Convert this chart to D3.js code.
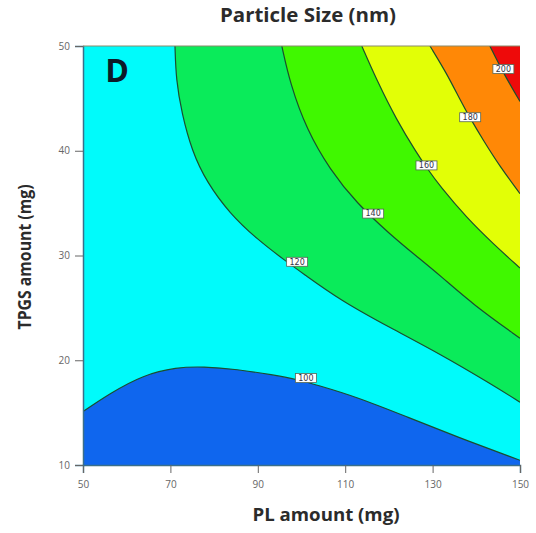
<!DOCTYPE html>
<html>
<head>
<meta charset="utf-8">
<script src="https://cdn.jsdelivr.net/npm/d3@7"></script>
<style>
  body { margin: 0; background: #fff; }
  svg { display: block; }
</style>
</head>
<body>
<div id="chart"></div>
<script>
// contour lines, [PL amount, TPGS amount]
const contour100 = [[50, 15.1], [56.2, 16.85], [63.8, 18.6], [71.4, 19.33], [77.5, 19.4], [85.2, 19.14],
    [93.5, 18.6], [98.9, 18.18], [103.5, 17.64], [112.6, 16.5], [124.1, 14.6], [135.5, 12.7], [150, 10.45]];
const contour120 = [[71.05, 50], [71.3, 46.75], [72.6, 43.6], [74.9, 40.0], [78.3, 37.0], [83.6, 34.0],
    [89.7, 31.6], [96.6, 29.4], [100.3, 28.3], [108.8, 25.75], [120.3, 23.1], [131.7, 20.6], [143.1, 17.8], [150, 16.0]];
const contour140 = [[95.5, 50], [97.4, 46.4], [101.2, 42.0], [106.5, 38.2], [112.6, 35.0], [120.3, 32.0],
    [126.4, 29.9], [131.7, 28.1], [139.3, 25.3], [150, 22.1]];
const contour160 = [[113.8, 50], [117.2, 46.75], [121.8, 42.9], [126.4, 39.76], [128.6, 38.4], [131.7, 36.6],
    [137.8, 33.6], [143.9, 31.1], [150, 28.8]];
const contour180 = [[129.4, 50], [133.2, 47.4], [136.3, 44.85], [138.6, 43.1], [141.6, 41.0], [145.4, 38.5], [150, 35.9]];
const contour200 = [[143.1, 50], [146.2, 47.4], [150, 44.7]];

const levels = [100, 120, 140, 160, 180, 200];
const labelPL = [101.0, 99.0, 116.4, 128.6, 138.6, 146.2];
const labelTPGS = [18.3, 29.4, 34.0, 38.6, 43.2, 47.8];

const xTicks = [50, 70, 90, 110, 130, 150];
const yTicks = [10, 20, 30, 40, 50];

const width = 536, height = 533;
const margin = { top: 46, right: 16, bottom: 68, left: 83 };

const svg = d3.select("#chart").append("svg")
    .attr("width", width)
    .attr("height", height);

const x = d3.scaleLinear().domain([50, 150]).range([margin.left, width - margin.right]);
const y = d3.scaleLinear().domain([10, 50]).range([height - margin.bottom, margin.top]);

const line = d3.line()
    .x(d => x(d[0]))
    .y(d => y(d[1]))
    .curve(d3.curveBasis);

svg.append("clipPath").attr("id", "plot-clip")
    .append("rect")
    .attr("x", x(50)).attr("y", y(50))
    .attr("width", x(150) - x(50)).attr("height", y(10) - y(50));

const plot = svg.append("g").attr("clip-path", "url(#plot-clip)");

// base region 100-120
plot.append("rect")
    .attr("x", x(50)).attr("y", y(50))
    .attr("width", x(150) - x(50)).attr("height", y(10) - y(50))
    .attr("fill", "#00fbfb");

// below 100
plot.append("path")
    .attr("d", line(contour100) + `L${x(150)},${y(10)}L${x(50)},${y(10)}Z`)
    .attr("fill", "#0f66ee");

// the upper regions, each one closed through the top-right corner
const upper = [
    { pts: contour120, color: "#0aeb5a" },
    { pts: contour140, color: "#40f800" },
    { pts: contour160, color: "#e2ff06" },
    { pts: contour180, color: "#ff8806" },
    { pts: contour200, color: "#ee0a0a" }
];

upper.forEach(r => {
    plot.append("path")
        .attr("d", line(r.pts) + `L${x(150)},${y(50)}Z`)
        .attr("fill", r.color);
});

// contour lines
[contour100, contour120, contour140, contour160, contour180, contour200].forEach(pts => {
    plot.append("path")
        .attr("d", line(pts))
        .attr("fill", "none")
        .attr("stroke", "#1a4f2e")
        .attr("stroke-width", 1.2);
});

// contour labels
levels.forEach((lv, i) => {
    const g = plot.append("g")
        .attr("transform", `translate(${x(labelPL[i])},${y(labelTPGS[i])})`);
    g.append("rect")
        .attr("x", -10.5).attr("y", -4.5)
        .attr("width", 21).attr("height", 9)
        .attr("fill", "#fff")
        .attr("stroke", "#556655")
        .attr("stroke-width", 0.8);
    g.append("text")
        .attr("dy", "0.35em")
        .attr("text-anchor", "middle")
        .style("font-family", "'DejaVu Sans', sans-serif")
        .style("font-size", "8px")
        .style("fill", "#334")
        .text(lv);
});

// axes
const xAxis = svg.append("g")
    .attr("transform", `translate(0,${y(10)})`)
    .call(d3.axisBottom(x).tickValues(xTicks).tickSize(8).tickPadding(8));
const yAxis = svg.append("g")
    .attr("transform", `translate(${x(50)},0)`)
    .call(d3.axisLeft(y).tickValues(yTicks).tickSize(8).tickPadding(5));

[xAxis, yAxis].forEach(a => {
    a.select(".domain").attr("stroke", "#3a6f8a").attr("stroke-width", 1.5);
    a.selectAll(".tick line").attr("stroke", "#666");
    a.selectAll(".tick text")
        .style("font-family", "'Open Sans', sans-serif")
        .style("font-size", "10px")
        .style("fill", "#666");
});

// top edge
svg.append("line")
    .attr("x1", x(50)).attr("x2", x(150)).attr("y1", y(50)).attr("y2", y(50))
    .attr("stroke", "#8a8a6a").attr("stroke-width", 1);

// titles
function label(txt, w, size) {
    return svg.append("text")
        .attr("text-anchor", "middle")
        .attr("textLength", w)
        .attr("lengthAdjust", "spacingAndGlyphs")
        .style("font-family", "'Open Sans', sans-serif")
        .style("font-weight", "bold")
        .style("font-size", size + "px")
        .style("fill", "#2b2b2b")
        .text(txt);
}

label("Particle Size (nm)", 176, 19).attr("x", 308).attr("y", 22);
label("PL amount (mg)", 147, 18).attr("x", 326).attr("y", 521);
label("TPGS amount (mg)", 145, 18).attr("transform", "translate(31,257) rotate(-90)");

svg.append("text")
    .attr("x", 117).attr("y", 82)
    .attr("text-anchor", "middle")
    .style("font-family", "'Open Sans', sans-serif")
    .style("font-weight", "bold")
    .style("font-size", "32px")
    .style("fill", "#0c1a28")
    .text("D");
</script>
</body>
</html>
